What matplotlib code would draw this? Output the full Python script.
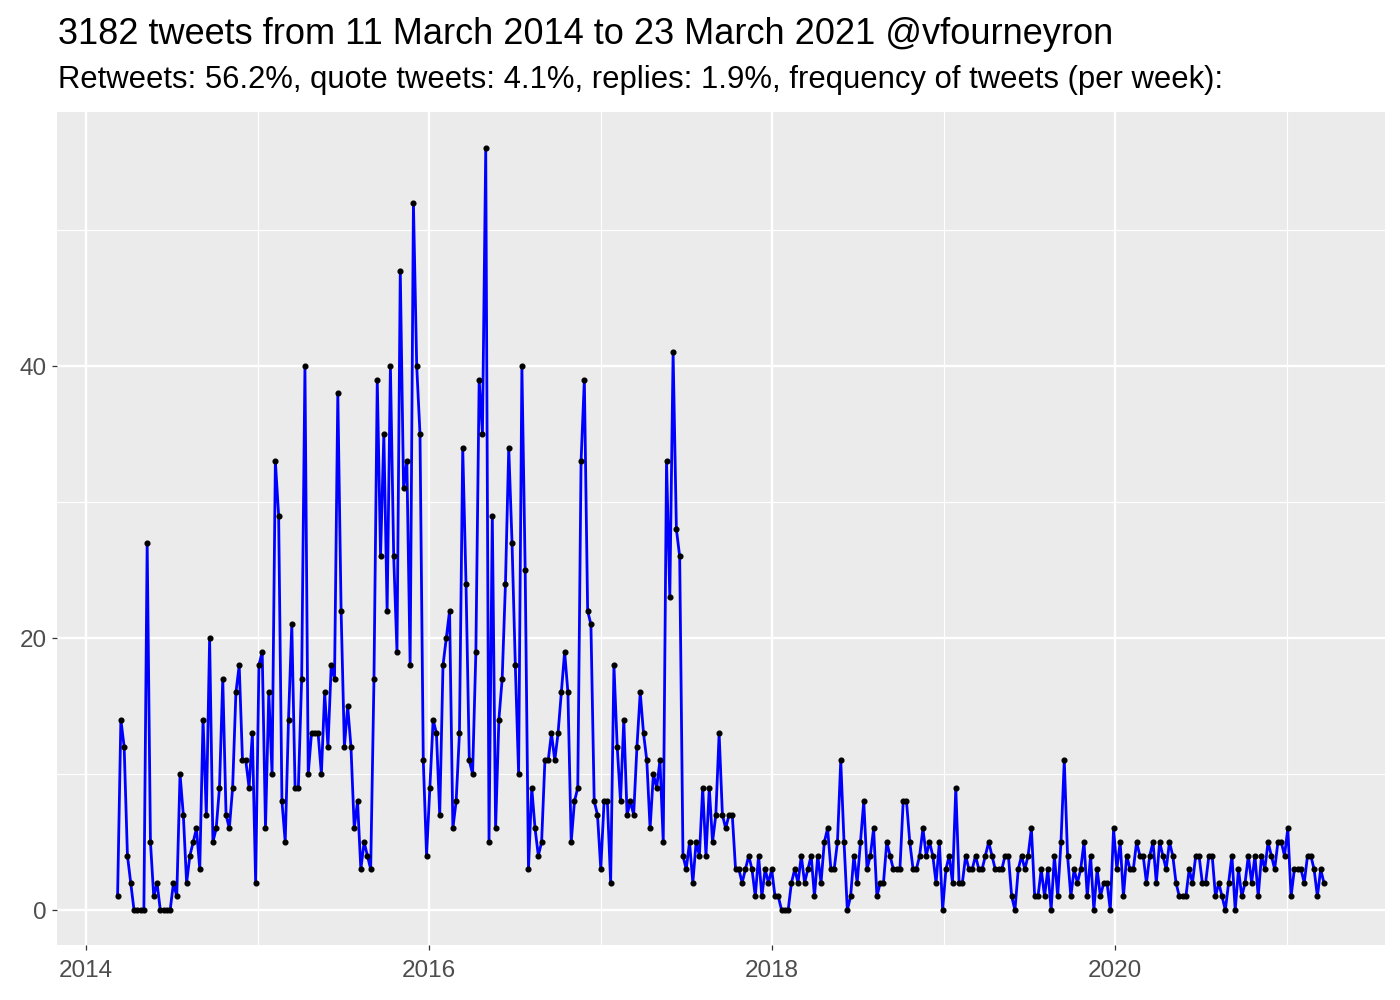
import matplotlib
matplotlib.use('Agg')
import matplotlib.pyplot as plt
import pandas as pd
from datetime import datetime

# weekly tweet counts, in order
seg_2014 = [1, 14, 12, 4, 2, 0, 0, 0, 0, 27, 5, 1, 2, 0, 0, 0, 0, 2, 1, 10,
            7, 2, 4, 5, 6, 3, 14, 7, 20]
seg_2015a = [5, 6, 9, 17, 7, 6, 9, 16, 18, 11, 11, 9, 13, 2, 18, 19, 6, 16, 10,
             33, 29, 8, 5, 14, 21, 9, 9, 17, 40]
seg_2015b = [10, 13, 13, 13, 10, 16, 12, 18, 17, 38, 22, 12, 15, 12, 6, 8, 3, 5,
             4, 3, 17, 39, 26, 35, 22, 40, 26, 19]
seg_2016a = [47, 31, 33, 18, 52, 40, 35, 11, 4, 9, 14, 13, 7, 18, 20, 22, 6, 8,
             13, 34, 24, 11, 10, 19, 39, 35, 56, 5, 29, 6]
seg_2016b = [14, 17, 24, 34, 27, 18, 10, 40, 25, 3, 9, 6, 4, 5, 11, 11, 13, 11,
             13, 16, 19, 16, 5, 8, 9, 33, 39, 22, 21]
seg_2017a = [8, 7, 3, 8, 8, 2, 18, 12, 8, 14, 7, 8, 7, 12, 16, 13, 11, 6, 10, 9,
             11, 5, 33, 23, 41, 28, 26, 4]
seg_2017b = [3, 5, 2, 5, 4, 9, 4, 9, 5, 7, 13, 7, 6, 7, 7, 3, 3, 2, 3, 4, 3, 1,
             4, 1, 3, 2, 3, 1, 1]
seg_2018 = [0, 0, 0, 2, 3, 2, 4, 2, 3, 4, 1, 4, 2, 5, 6, 3, 3, 5, 11, 5, 0, 1, 4,
            2, 5, 8, 3, 4, 6, 1, 2, 2, 5, 4, 3, 3, 3]
seg_2019a = [8, 8, 5, 3, 3, 4, 6, 4, 5, 4, 2, 5, 0, 3, 4, 2, 9, 2, 2, 4, 3, 3, 4,
             3, 3, 4, 5, 4, 3, 3, 3, 4, 4, 1, 0, 3]
seg_2019b = [4, 3, 4, 6, 1, 1, 3, 1, 3, 0, 4, 1, 5, 11, 4, 1, 3, 2, 3, 5, 1, 4, 0,
             3, 1, 2, 2, 0, 6, 3, 5, 1, 4, 3, 3, 5, 4]
seg_2020 = [4, 2, 4, 5, 2, 5, 4, 3, 5, 4, 2, 1, 1, 1, 3, 2, 4, 4, 2, 2, 4, 4, 1,
            2, 1, 0, 2, 4, 0, 3, 1, 2, 4, 2, 4, 1, 4, 3, 5, 4, 3, 5, 5, 4, 6, 1,
            3, 3, 3, 2, 4, 4, 3, 1, 3, 2]

counts = (seg_2014 + seg_2015a + seg_2015b + seg_2016a + seg_2016b + seg_2017a
          + seg_2017b + seg_2018 + seg_2019a + seg_2019b + seg_2020)
start_date = '2014-03-09'
dates = pd.date_range(start_date, periods=len(counts), freq='7D')

title = "3182 tweets from 11 March 2014 to 23 March 2021 @vfourneyron"
subtitle = ("Retweets: 56.2%, quote tweets: 4.1%, replies: 1.9%, "
            "frequency of tweets (per week):")
y_major = [0, 20, 40]
y_minor = [10, 30, 50]
x_major_years = [2014, 2016, 2018, 2020]
x_minor_years = [2015, 2017, 2019, 2021]

plt.rcParams['font.family'] = ['Liberation Sans', 'DejaVu Sans']

W, H = 1400, 1000
fig = plt.figure(figsize=(14, 10), dpi=100)
L, R, T, B = 57, 1385, 112, 945
ax = fig.add_axes([L / W, 1 - B / H, (R - L) / W, (B - T) / H])
ax.set_facecolor('#EBEBEB')
for s in ax.spines.values():
    s.set_visible(False)

ax.plot(dates, counts, color='#0000FF', lw=2.0, zorder=3,
        solid_joinstyle='round')
ax.plot(dates, counts, 'o', ms=3.4, color='black', zorder=4)

ax.set_xlim(datetime(2013, 10, 31), datetime(2021, 7, 29))
ax.set_ylim(-2.57, 58.68)

ax.set_yticks(y_major)
ax.set_yticklabels([str(v) for v in y_major])
ax.set_yticks(y_minor, minor=True)
ax.set_xticks([datetime(y, 1, 1) for y in x_major_years])
ax.set_xticklabels([str(y) for y in x_major_years])
ax.set_xticks([datetime(y, 1, 1) for y in x_minor_years], minor=True)

ax.grid(which='major', color='white', lw=1.7)
ax.grid(which='minor', color='white', lw=0.85)
ax.set_axisbelow(True)

ax.tick_params(which='major', length=3.6, width=0.9, color='#333333',
               labelsize=17.5, labelcolor='#4D4D4D', pad=4)
ax.tick_params(axis='x', which='major', pad=7)
ax.tick_params(which='minor', length=0)

fig.text(58 / W, 1 - 44 / H, title, fontsize=26, ha='left', va='baseline',
         color='black')
fig.text(58 / W, 1 - 88 / H, subtitle, fontsize=22.3, ha='left',
         va='baseline', color='black')

fig.savefig('out.png', dpi=100)
